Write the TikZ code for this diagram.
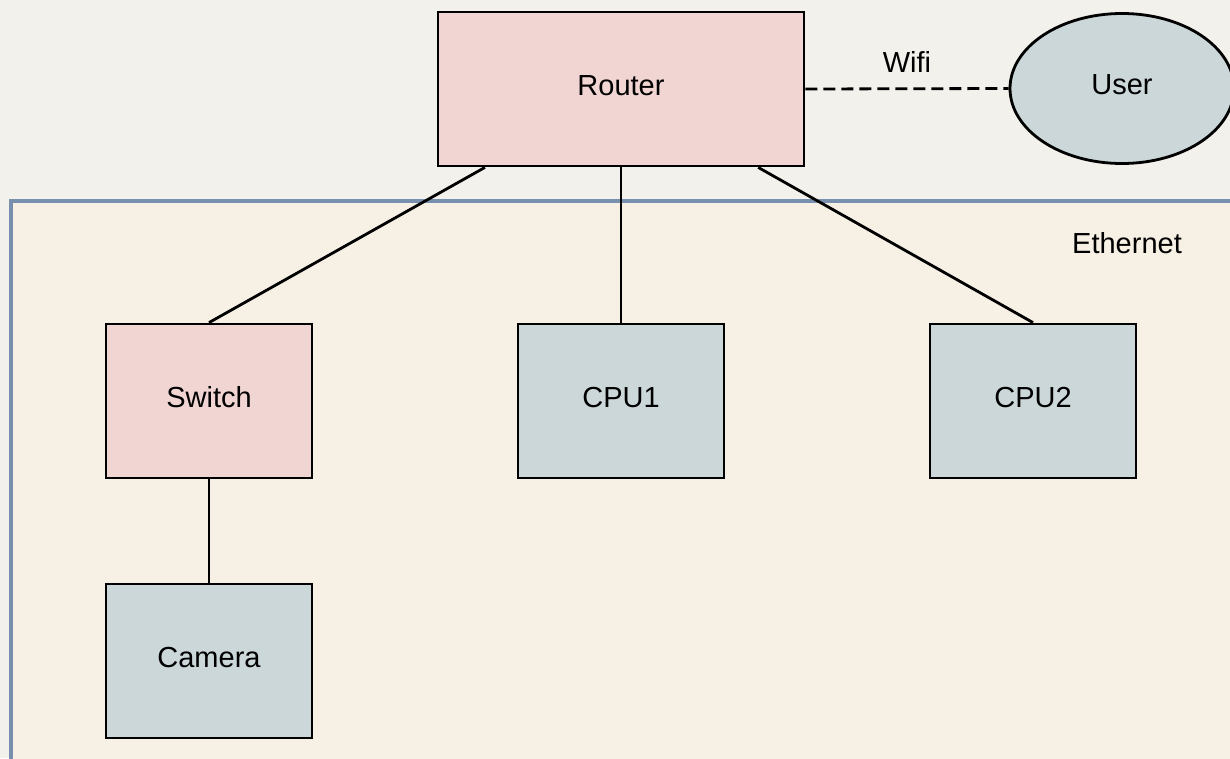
\documentclass[tikz,border=0pt]{standalone}
\usepackage{fontspec}
\setmainfont{Liberation Sans}
\usetikzlibrary{calc,shapes.geometric}
\definecolor{pagebg}{HTML}{F3F1EB}
\definecolor{zonebg}{HTML}{F7F0E5}
\definecolor{zoneline}{HTML}{7890AE}
\definecolor{pinkfill}{HTML}{F0D5D2}
\definecolor{grayfill}{HTML}{CBD7D9}
\tikzset{
  box/.style={draw=black, line width=2.8pt, minimum width=206pt, minimum height=154pt,
    inner sep=0pt, text height=20pt, text depth=8pt},
  hub/.style={box, fill=pinkfill},
  host/.style={box, fill=grayfill},
  link/.style={draw=black, line width=2.8pt},
  label/.style={inner sep=0pt, text=black}
}
\begin{document}
\begin{tikzpicture}[x=1pt,y=-1pt,font=\fontsize{29}{34}\selectfont]
  \useasboundingbox (0,0) rectangle (1230,758);
  \fill[pagebg] (0,0) rectangle (1230,758);
  % Ethernet zone
  \filldraw[fill=zonebg, draw=zoneline, line width=3.5pt] (11,201) rectangle (1250,780);
  \node[label] (eth) at (1127,243) {Ethernet};
  % devices
  \node[hub, minimum width=366pt] (router) at (621,89) {Router};
  \node[ellipse, draw=black, line width=2.8pt, fill=grayfill, minimum width=224pt,
    minimum height=150pt, inner sep=0pt, text height=20pt, text depth=8pt] (user) at (1122,88.5) {User};
  \node[hub] (switch) at (209,401) {Switch};
  \node[host] (cpu1) at (621,401) {CPU1};
  \node[host] (cpu2) at (1033,401) {CPU2};
  \node[host] (camera) at (209,661) {Camera};
  % links
  \draw[link, dash pattern=on 12pt off 6pt] (router.east) -- (user.west);
  \node[label] (wifi) at (907,62) {Wifi};
  \draw[link] ($(router.south west)!0.131!(router.south east)$) -- (switch.north);
  \draw[link] (router.south) -- (cpu1.north);
  \draw[link] ($(router.south west)!0.872!(router.south east)$) -- (cpu2.north);
  \draw[link] (switch.south) -- (camera.north);
\end{tikzpicture}
\end{document}
